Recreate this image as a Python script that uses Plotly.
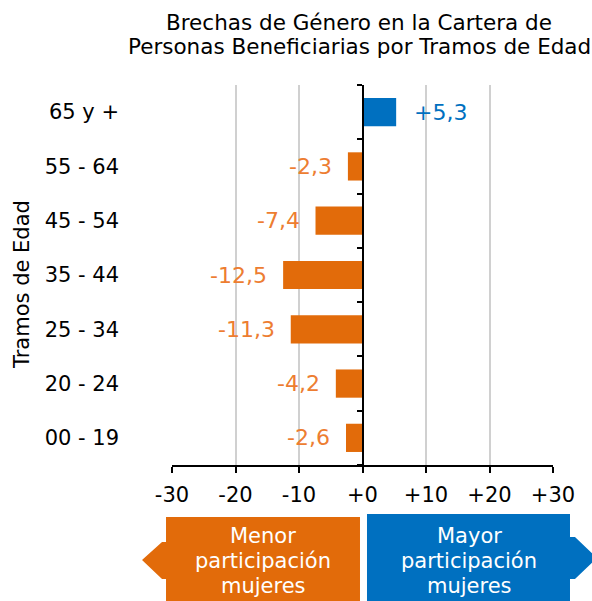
import plotly.graph_objects as go

# tramos de edad (de abajo hacia arriba) y brechas en puntos
tramos = ["00 - 19", "20 - 24", "25 - 34", "35 - 44", "45 - 54", "55 - 64", "65 y +"]
brechas = [-2.6, -4.2, -11.3, -12.5, -7.4, -2.3, 5.3]

x_ticks = [-30, -20, -10, 0, 10, 20, 30]
x_ticktext = ["-30", "-20", "-10", "+0", "+10", "+20", "+30"]

FONT = "DejaVu Sans"
NARANJA = "#E26B0A"
NARANJA_TXT = "#ED7D31"
AZUL = "#0070C0"

W, H = 592, 601
L, R, T, B = 172, 39, 85, 136


# pixel -> paper coords for the decorative arrows / titles
def px(x):
    return (x - L) / (W - L - R)


def py(y):
    return (H - B - y) / (H - T - B)


def path(points):
    s = "M" + " L".join(f"{px(a):.4f},{py(b):.4f}" for a, b in points) + " Z"
    return s


bar_colors = [AZUL if v > 0 else NARANJA for v in brechas]
txt_colors = [AZUL if v > 0 else NARANJA_TXT for v in brechas]
labels = [f"{v:+.1f}".replace(".", ",") for v in brechas]

fig = go.Figure()
fig.add_trace(go.Bar(
    y=tramos, x=brechas, orientation="h",
    marker=dict(color=bar_colors, line=dict(width=0)),
    hoverinfo="skip",
))
# invisible trace so the zero axis (y2) gets drawn
fig.add_trace(go.Scatter(x=[0], y=[0], yaxis="y2", mode="markers",
                         marker=dict(opacity=0), showlegend=False, hoverinfo="skip"))

fig.update_layout(
    width=W, height=H,
    margin=dict(l=L, r=R, t=T, b=B, autoexpand=False),
    paper_bgcolor="white", plot_bgcolor="white",
    showlegend=False, bargap=0.48,
    font=dict(family=FONT, size=21, color="black"),
    xaxis=dict(
        range=[-30, 30], tickvals=x_ticks, ticktext=x_ticktext, automargin=False,
        showgrid=True, gridcolor="#D0D0D0", gridwidth=1.5, zeroline=False,
        showline=True, linecolor="black", linewidth=2,
        ticks="outside", ticklen=6, tickcolor="black", tickwidth=2,
        tickfont=dict(size=21), ticklabelstandoff=4,
    ),
    yaxis=dict(
        categoryorder="array", categoryarray=tramos, range=[-0.5, 6.5], automargin=False,
        showgrid=False, zeroline=False, showline=False, ticks="",
        ticklabelstandoff=52, tickfont=dict(size=21),
    ),
    yaxis2=dict(
        overlaying="y", anchor="free", position=0.5, range=[-0.5, 6.5], automargin=False,
        tickvals=[i - 0.5 for i in range(len(tramos) + 1)], showticklabels=False,
        showgrid=False, zeroline=False, showline=True, linecolor="black", linewidth=2,
        ticks="outside", ticklen=5, tickcolor="black", tickwidth=2, side="left",
    ),
)

# data labels next to bar ends
for t, v, lab, c in zip(tramos, brechas, labels, txt_colors):
    fig.add_annotation(x=v, y=t, text=lab, showarrow=False,
                       xanchor="left" if v > 0 else "right",
                       xshift=16 if v > 0 else -14,
                       font=dict(color=c, size=22, family=FONT))

# title lines
for yy, txt in [(22, "Brechas de Género en la Cartera de"),
                (46, "Personas Beneficiarias por Tramos de Edad")]:
    fig.add_annotation(x=px(359), y=py(yy), xref="paper", yref="paper", text=txt,
                       showarrow=False, xanchor="center", yanchor="middle",
                       font=dict(size=21.5, family=FONT, color="black"))

fig.add_annotation(x=px(22), y=py(285), xref="paper", yref="paper", text="Tramos de Edad",
                   textangle=-90, showarrow=False, xanchor="center", yanchor="middle",
                   font=dict(size=21, family=FONT, color="black"))

shapes = [
    dict(type="path", xref="paper", yref="paper", line=dict(width=0), fillcolor=NARANJA,
         path=path([(166, 517), (360, 517), (360, 605), (166, 605), (166, 579),
                    (162, 579), (142, 560), (162, 542), (166, 542)])),
    dict(type="path", xref="paper", yref="paper", line=dict(width=0), fillcolor=AZUL,
         path=path([(367, 514), (570, 514), (570, 537), (575, 537), (597, 558),
                    (575, 579), (570, 579), (570, 605), (367, 605)])),
]
fig.update_layout(shapes=shapes)

for cx, lines in [(263, ["Menor", "participación", "mujeres"]),
                  (469, ["Mayor", "participación", "mujeres"])]:
    for yy, txt in zip([536, 561, 586], lines):
        fig.add_annotation(x=px(cx), y=py(yy), xref="paper", yref="paper",
                           text=txt, showarrow=False, xanchor="center", yanchor="middle",
                           font=dict(color="white", size=21, family=FONT))

# page without the default body margin so the figure fills the window
fig.write_html("out.html", config={"displayModeBar": False},
               post_script="document.body.style.margin='0';")
